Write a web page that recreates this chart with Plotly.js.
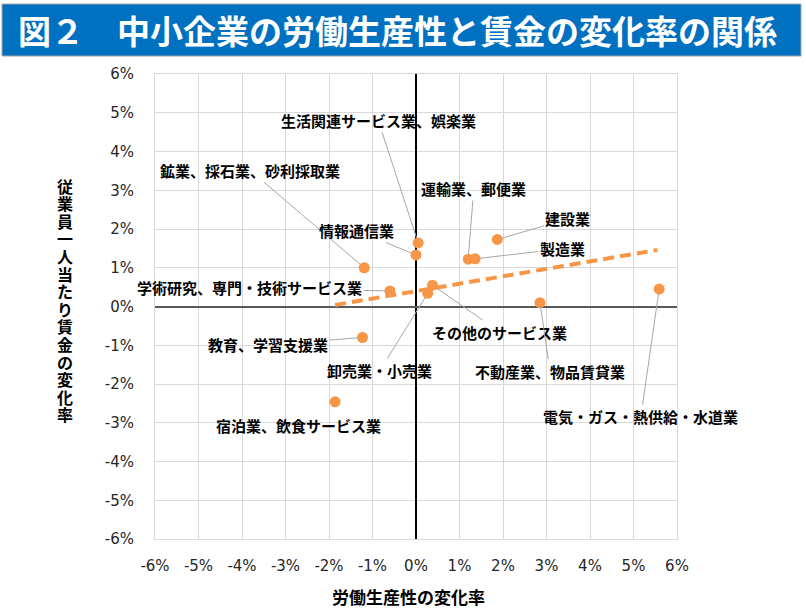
<!DOCTYPE html>
<html lang="ja">
<head>
<meta charset="utf-8">
<title>図２ 中小企業の労働生産性と賃金の変化率の関係</title>
<script src="https://cdn.plot.ly/plotly-3.0.1.min.js"></script>
<style>
  html, body { margin: 0; padding: 0; background: #ffffff; }
  #chart { width: 806px; height: 613px; }
</style>
</head>
<body>
<div id="chart"></div>
<script>
/* ---------------------------- data ---------------------------- */

const industries = [
  "生活関連サービス業、娯楽業",
  "鉱業、採石業、砂利採取業",
  "運輸業、郵便業",
  "建設業",
  "製造業",
  "情報通信業",
  "学術研究、専門・技術サービス業",
  "その他のサービス業",
  "教育、学習支援業",
  "卸売業・小売業",
  "不動産業、物品賃貸業",
  "宿泊業、飲食サービス業",
  "電気・ガス・熱供給・水道業",
];

// 労働生産性の変化率 (%)
const productivityChange = [0.05, -1.19, 1.20, 1.87, 1.36, 0.00, -0.60, 0.38, -1.23, 0.27, 2.85, -1.86, 5.59];
// 従業員一人当たり賃金の変化率 (%)
const wageChange = [1.64, 1.00, 1.22, 1.73, 1.23, 1.33, 0.40, 0.55, -0.80, 0.34, 0.10, -2.46, 0.45];

// linear trend line end points
const trendX = [-1.86, 5.55];
const trendY = [0.04, 1.46];

const tickVals = [-6, -5, -4, -3, -2, -1, 0, 1, 2, 3, 4, 5, 6];
const tickLabels = ["-6%", "-5%", "-4%", "-3%", "-2%", "-1%", "0%", "1%", "2%", "3%", "4%", "5%", "6%"];

/* --------------------------- layout --------------------------- */

// label placement (data coordinates of the text centre), same order as industries
const labelPos = [
  [-0.87, 4.81], [-3.82, 3.52], [1.33, 3.05], [3.49, 2.26], [3.36, 1.49],
  [-1.36, 1.96], [-3.82, 0.48], [1.93, -0.66], [-3.40, -0.99], [-0.83, -1.65],
  [3.08, -1.67], [-2.71, -3.07], [5.17, -2.84],
];
const noLeader = new Set(["宿泊業、飲食サービス業"]);

const W = 806, H = 613;
const M = { l: 155, r: 129, t: 74, b: 74 };
const plotW = W - M.l - M.r;
const plotH = H - M.t - M.b;
const px = (x) => (x - M.l) / plotW;          // page pixel -> paper x
const py = (y) => (H - M.b - y) / plotH;      // page pixel -> paper y

const ORANGE = "#F79646";
const JP = "Noto Sans CJK JP, Noto Sans, sans-serif";

const traces = [
  {
    type: "scatter",
    mode: "lines",
    x: trendX,
    y: trendY,
    line: { color: ORANGE, width: 4, dash: "11px,6px" },
    hoverinfo: "skip",
  },
  {
    type: "scatter",
    mode: "markers",
    x: productivityChange,
    y: wageChange,
    text: industries,
    marker: { color: ORANGE, size: 11 },
    hovertemplate: "%{text}<br>%{x:.2f}%, %{y:.2f}%<extra></extra>",
  },
];

const labelAnnotations = industries.map((name, i) => {
  const [lx, ly] = labelPos[i];
  const base = {
    text: name,
    font: { family: JP, size: 15, color: "#000000", weight: "bold" },
    xanchor: "center",
    yanchor: "middle",
  };
  if (noLeader.has(name)) {
    return Object.assign(base, { x: lx, y: ly, showarrow: false });
  }
  return Object.assign(base, {
    x: productivityChange[i],
    y: wageChange[i],
    ax: lx,
    ay: ly,
    axref: "x",
    ayref: "y",
    showarrow: true,
    arrowhead: 0,
    arrowwidth: 1,
    arrowcolor: "#A6A6A6",
    standoff: 5,
  });
});

// vertical y title: one upright character per annotation, tighter than <br> spacing
const yTitleChars = "従業員一人当たり賃金の変化率".split("").map((ch, i) => ({
  xref: "paper", yref: "paper",
  x: px(65), y: py(185.5 + i * 17.6),
  xanchor: "center", yanchor: "middle",
  text: ch,
  showarrow: false,
  font: { family: JP, size: 16, color: "#000000", weight: "bold" },
}));

const annotations = labelAnnotations.concat(yTitleChars, [
  {
    xref: "paper", yref: "paper",
    x: px(16), y: py(30),
    xanchor: "left", yanchor: "middle",
    text: "図２　中小企業の労働生産性と賃金の変化率の関係",
    showarrow: false,
    font: { family: JP, size: 33, color: "#ffffff", weight: "bold" },
  },
  {
    xref: "paper", yref: "paper",
    x: px(408), y: py(596),
    xanchor: "center", yanchor: "middle",
    text: "労働生産性の変化率",
    showarrow: false,
    font: { family: JP, size: 17, color: "#000000", weight: "bold" },
  },
]);

const axisCommon = {
  range: [-6, 6],
  tickmode: "array",
  tickvals: tickVals,
  ticktext: tickLabels,
  ticks: "",
  showgrid: true,
  gridcolor: "#D9D9D9",
  gridwidth: 1,
  showline: true,
  mirror: true,
  linecolor: "#D9D9D9",
  linewidth: 1,
  zeroline: true,
  zerolinewidth: 1.5,
  fixedrange: true,
  tickfont: { family: "DejaVu Sans, Verdana, sans-serif", size: 15, color: "#262626" },
};

const layout = {
  width: W,
  height: H,
  margin: M,
  paper_bgcolor: "#ffffff",
  plot_bgcolor: "#ffffff",
  showlegend: false,
  xaxis: Object.assign({}, axisCommon, { zerolinecolor: "#000000", ticklabelstandoff: 13 }),
  yaxis: Object.assign({}, axisCommon, { zerolinecolor: "#595959", ticklabelstandoff: 17 }),
  shapes: [
    {
      type: "rect",
      xref: "paper", yref: "paper",
      x0: px(2), x1: px(801), y0: py(56), y1: py(4),
      fillcolor: "#0070C0",
      line: { color: "#A6A6A6", width: 1 },
      layer: "below",
    },
  ],
  annotations: annotations,
};

Plotly.newPlot("chart", traces, layout, { displayModeBar: false });
</script>
</body>
</html>
